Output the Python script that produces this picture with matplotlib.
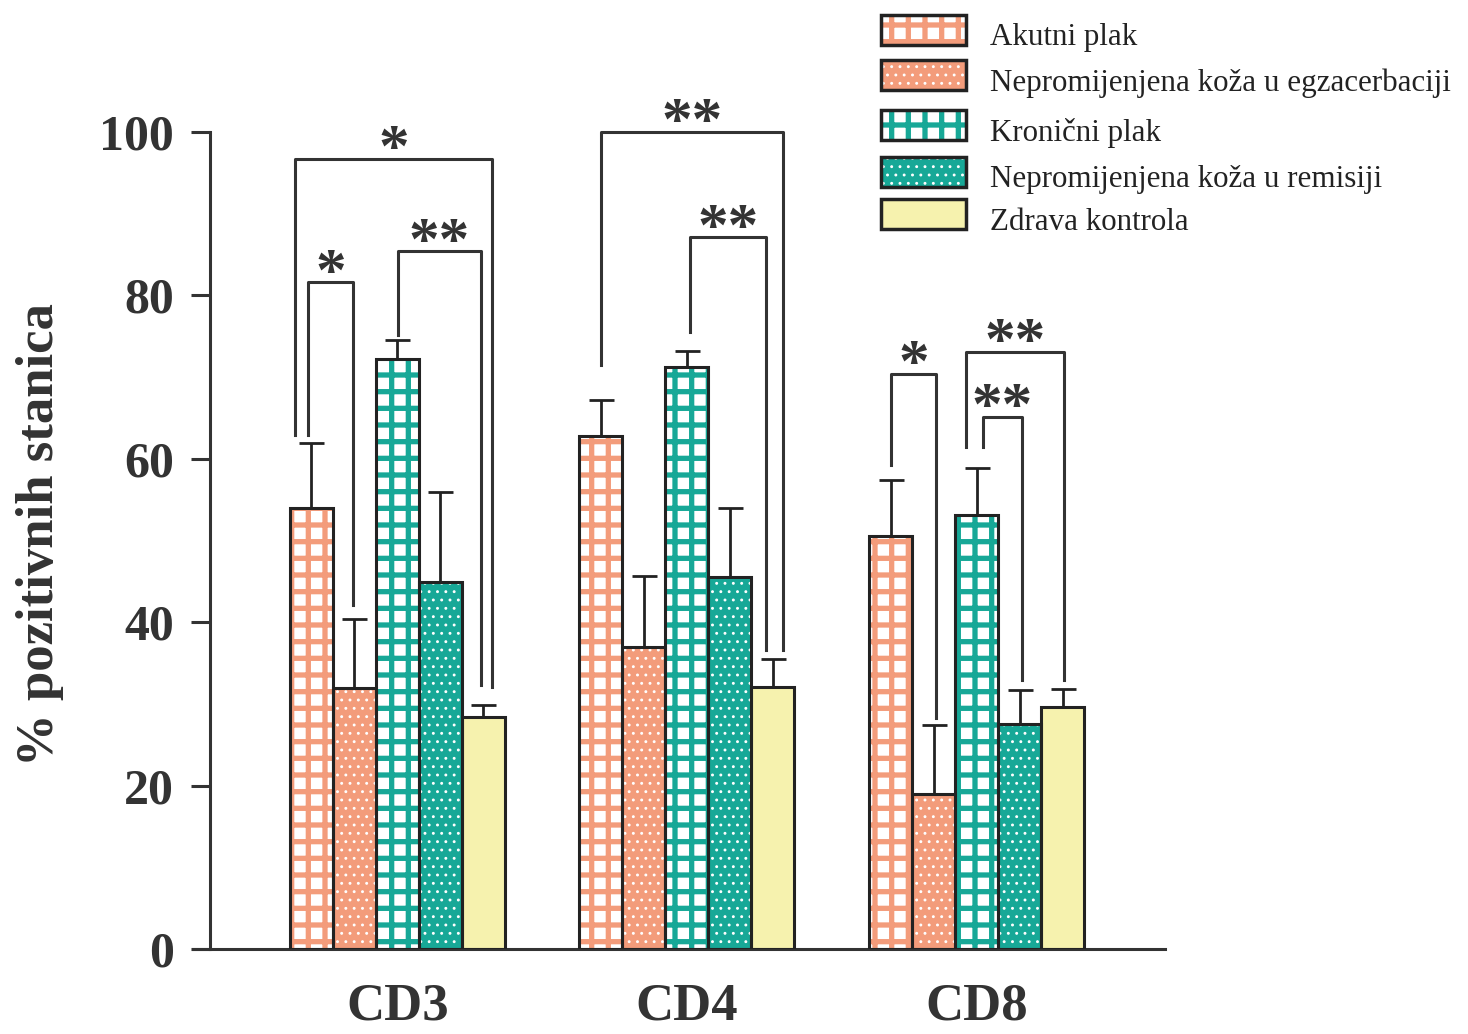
import matplotlib.pyplot as plt
from matplotlib.patches import Rectangle
import numpy as np

# podaci (% pozitivnih stanica, srednja vrijednost i SD)
groups = ["CD3", "CD4", "CD8"]
series_names = ["Akutni plak", "Nepromijenjena koža u egzacerbaciji", "Kronični plak",
                "Nepromijenjena koža u remisiji", "Zdrava kontrola"]
akutni = [54.0, 62.8, 50.6]
akutni_sd = [7.9, 4.4, 6.8]
egzac = [31.9, 37.0, 19.0]
egzac_sd = [8.5, 8.7, 8.4]
kronicni = [72.2, 71.2, 53.1]
kronicni_sd = [2.3, 2.0, 5.8]
remisija = [44.9, 45.5, 27.5]
remisija_sd = [11.0, 8.5, 4.2]
zdrava = [28.4, 32.1, 29.6]
zdrava_sd = [1.5, 3.4, 2.2]
yticks = [0, 20, 40, 60, 80, 100]

# oznake značajnosti: (grupa, lijevi pomak, desni pomak, vrh, kraj lijevo, kraj desno, oznaka)
sig = [
    (0, -0.309, -0.154, 81.6, 62.9, 42.1, "*"),
    (0, -0.354, 0.326, 96.7, 62.9, 32.1, "*"),
    (0, 0.002, 0.288, 85.4, 75.2, 32.3, "**"),
    (1, -0.297, 0.332, 100.0, 71.5, 36.6, "**"),
    (1, 0.010, 0.273, 87.1, 75.5, 36.6, "**"),
    (2, -0.295, -0.140, 70.4, 59.2, 28.3, "*"),
    (2, -0.036, 0.302, 73.1, 61.4, 32.9, "**"),
    (2, 0.022, 0.157, 65.1, 61.4, 32.9, "**"),
]

salmon = "#F39C7B"
teal = "#17A897"
yellow = "#F6F2AE"
# (facecolor, hatchcolor, hatch, hatch linewidth)
styles = [
    ("white", salmon, "+", 3.8),
    (salmon, "white", "..", 0.9),
    ("white", teal, "+", 3.8),
    (teal, "white", "..", 0.9),
    (yellow, yellow, None, 1.0),
]

plt.rcParams["font.family"] = "Liberation Serif"


def hatched(patch_fn, hlw):
    # debljina šrafure po objektu, ako je podržano
    with plt.rc_context({"hatch.linewidth": hlw}):
        obj = patch_fn()
    items = obj.patches if hasattr(obj, "patches") else [obj]
    for p in items:
        if hasattr(p, "set_hatch_linewidth"):
            p.set_hatch_linewidth(hlw)
    return obj


fig = plt.figure(figsize=(14.68, 10.34), dpi=100)
ax = fig.add_axes([193 / 1468, 85 / 1034, 972 / 1468, 817 / 1034])

x = np.arange(len(groups))
w = 0.1485
values = [akutni, egzac, kronicni, remisija, zdrava]
sds = [akutni_sd, egzac_sd, kronicni_sd, remisija_sd, zdrava_sd]

for i, (vals, sd) in enumerate(zip(values, sds)):
    fc, hc, hatch, hlw = styles[i]
    pos = x + (i - 2) * w
    ax.errorbar(pos, vals, yerr=[np.zeros(len(vals)), sd], fmt="none", ecolor="#222222",
                elinewidth=2.0, capsize=9, capthick=2.0, zorder=1)
    hatched(lambda: ax.bar(pos, vals, w, color=fc, edgecolor=hc, hatch=hatch,
                           linewidth=0, zorder=2), hlw)
    ax.bar(pos, vals, w, fill=False, edgecolor="#222222", linewidth=2.2, zorder=3)

for g, xl, xr, top, yl, yr, lab in sig:
    ax.plot([g + xl, g + xl, g + xr, g + xr], [yl, top, top, yr], color="#333333",
            lw=2.2, clip_on=False, zorder=4)
    ax.text(g + (xl + xr) / 2, top - 0.9, lab, ha="center", va="baseline", fontsize=44,
            fontweight="bold", color="#333333", clip_on=False)

ax.set_xlim(-0.706, 2.651)
ax.set_ylim(0, 100)
ax.spines["top"].set_visible(False)
ax.spines["right"].set_visible(False)
ax.spines["left"].set_position(("data", -0.648))
ax.spines["left"].set_bounds(0, 100)
for s in ["left", "bottom"]:
    ax.spines[s].set_linewidth(2.2)
    ax.spines[s].set_color("#333333")
ax.set_yticks(yticks)
ax.set_yticklabels([str(t) for t in yticks], fontsize=36, fontweight="bold", color="#333333")
ax.tick_params(axis="y", length=14, width=2.2, color="#333333", pad=12)
ax.set_xticks(x)
ax.set_xticklabels(groups, fontsize=38, fontweight="bold", color="#333333")
ax.tick_params(axis="x", length=0, pad=24)
ax.patch.set_alpha(0)

fig.text(40 / 1468, 1 - 535 / 1034, "% pozitivnih stanica", rotation=90, fontsize=38,
         fontweight="bold", ha="center", va="center", color="#333333")

# legenda
rows_y = [30, 75, 125, 172, 214]
for i, name in enumerate(series_names):
    fc, hc, hatch, hlw = styles[i]
    yb = 1 - (rows_y[i] + 15) / 1034
    r = hatched(lambda: Rectangle((881 / 1468, yb), 85 / 1468, 30 / 1034,
                                  transform=fig.transFigure, facecolor=fc, edgecolor=hc,
                                  hatch=hatch, linewidth=0), hlw)
    fig.add_artist(r)
    r2 = Rectangle((881 / 1468, yb), 85 / 1468, 30 / 1034, transform=fig.transFigure,
                   fill=False, edgecolor="#222222", linewidth=2.5)
    fig.add_artist(r2)
    fig.text(990 / 1468, 1 - (rows_y[i] + 8) / 1034, name, fontsize=22.3, va="center",
             ha="left", color="#222222")

fig.savefig("out.png", dpi=100)
